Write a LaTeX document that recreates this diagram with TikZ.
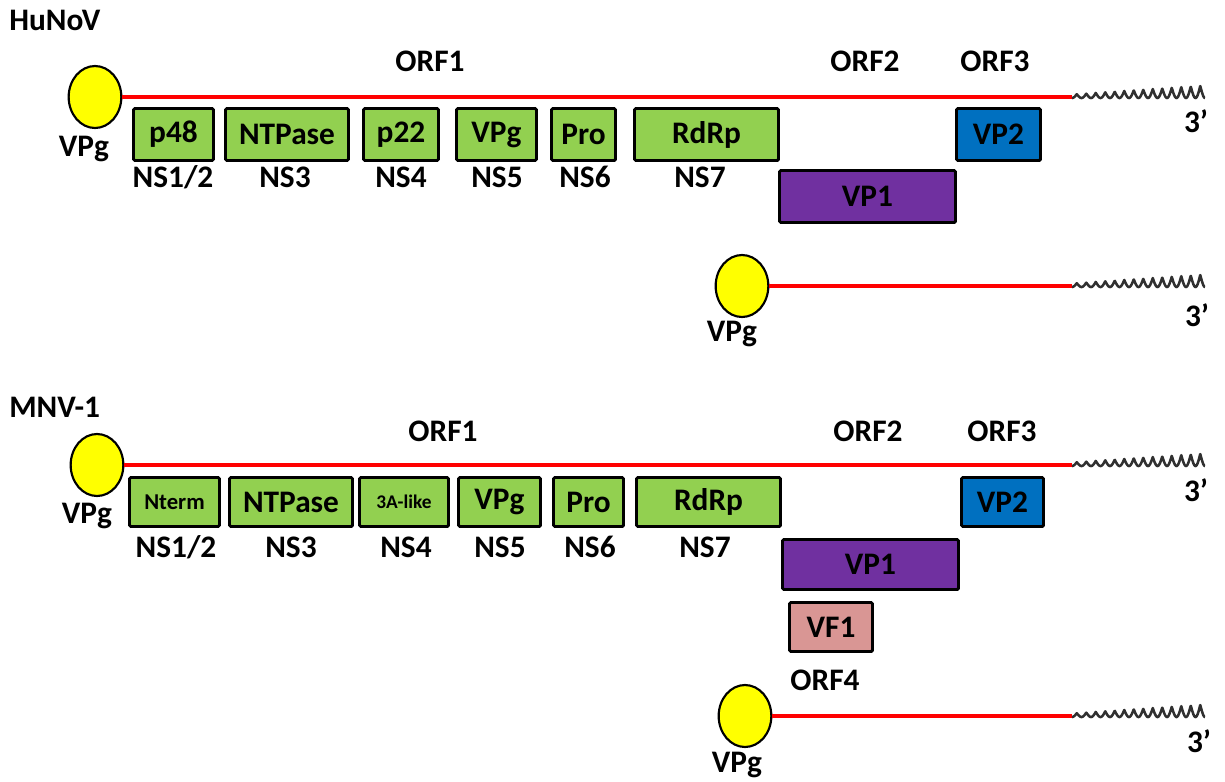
\documentclass[tikz,border=0pt]{standalone}
\usepackage{fontspec}
\setmainfont{Carlito}
\usetikzlibrary{shapes.geometric}
\definecolor{gfill}{HTML}{92D050}
\definecolor{pfill}{HTML}{7030A0}
\definecolor{bfill}{HTML}{0070C0}
\definecolor{vffill}{HTML}{D99694}
\definecolor{vyellow}{HTML}{FFFF00}
\definecolor{rnared}{HTML}{FF0000}
\definecolor{tailgray}{HTML}{303030}
\newcommand\pbox[7]{\node[box,fill=#2,minimum width={(#5-#3-3)*0.75pt},minimum height={(#6-#4-3)*0.75pt}] (#1) at ({(#3+#5)/2},{(#4+#6)/2}) {#7};}
\newcommand\rnatail[2]{\draw[tail] plot[domain=0:133,samples=500] ({#1+\x},{#2+1-(3.5+9*\x/133)*(1-abs(cos(\x/9.5*180)))});}
\begin{document}
\begin{tikzpicture}[x=0.75pt,y=-0.75pt]
\tikzset{
 txt/.style={font=\bfseries\fontsize{23.5}{25}\selectfont},
 box/.style={draw=black, line width=2.2pt, rounded corners=1pt, inner sep=0pt, txt, text=black},
 lab/.style={txt, inner sep=0pt},
 vpg/.style={ellipse, draw=black, line width=1.6pt, fill=vyellow, minimum width=39.5pt, minimum height=46.5pt, inner sep=0pt},
 rna/.style={draw=rnared, line width=2.6pt},
 tail/.style={draw=tailgray, line width=1.9pt, line join=round},
}
\useasboundingbox (0,0) rectangle (1225,782);

% ---------------- HuNoV ----------------
\node[lab, anchor=base west] (hunov) at (9,30) {HuNoV};
\node[lab, anchor=base] (orf1a) at (430,71) {ORF1};
\node[lab, anchor=base] (orf2a) at (865,71) {ORF2};
\node[lab, anchor=base] (orf3a) at (995,71) {ORF3};
\node[vpg] (v1) at (95,97) {};
\coordinate (t1) at (1072,97);
\draw[rna] (v1.east) -- (t1);
\rnatail{1072}{97}
\node[lab, anchor=base] (v1l) at (84,156) {VPg};
\node[lab, anchor=base] (e1) at (1196,132) {3’};

\pbox{p48}{gfill}{132}{107}{215}{162}{p48}
\pbox{ntp1}{gfill}{224}{107}{350}{162}{NTPase}
\pbox{p22}{gfill}{362}{107}{440}{162}{p22}
\pbox{vpg1}{gfill}{455}{107}{538}{162}{VPg}
\pbox{pro1}{gfill}{550}{107}{617}{162}{Pro}
\pbox{rdrp1}{gfill}{633}{107}{780}{162}{RdRp}
\pbox{vp2a}{bfill}{955}{107}{1042}{162}{VP2}
\pbox{vp1a}{pfill}{778}{169}{957}{224}{VP1}

\node[lab, anchor=base] at (173,187) {NS1/2};
\node[lab, anchor=base] at (285,187) {NS3};
\node[lab, anchor=base] at (401,187) {NS4};
\node[lab, anchor=base] at (497,187) {NS5};
\node[lab, anchor=base] at (585,187) {NS6};
\node[lab, anchor=base] at (700,187) {NS7};

% subgenomic HuNoV
\node[vpg] (v2) at (742,286) {};
\coordinate (t2) at (1072,286);
\draw[rna] (v2.east) -- (t2);
\rnatail{1072}{286}
\node[lab, anchor=base] (v2l) at (732,341) {VPg};
\node[lab, anchor=base] (e2) at (1197,326) {3’};

% ---------------- MNV-1 ----------------
\node[lab, anchor=base west] (mnv) at (9,417) {MNV-1};
\node[lab, anchor=base] (orf1b) at (443,441) {ORF1};
\node[lab, anchor=base] (orf2b) at (868,441) {ORF2};
\node[lab, anchor=base] (orf3b) at (1002,441) {ORF3};
\node[vpg] (v3) at (97,465) {};
\coordinate (t3) at (1072,465);
\draw[rna] (v3.east) -- (t3);
\rnatail{1072}{465}
\node[lab, anchor=base] (v3l) at (87,523) {VPg};
\node[lab, anchor=base] (e3) at (1196,501) {3’};

\pbox{nterm}{gfill}{128}{476}{221}{528}{\fontsize{17}{19}\selectfont Nterm}
\pbox{ntp2}{gfill}{228}{476}{354}{528}{NTPase}
\pbox{a3}{gfill}{358}{476}{450}{528}{\fontsize{14.5}{16}\selectfont 3A-like}
\pbox{vpg2}{gfill}{457}{476}{542}{528}{VPg}
\pbox{pro2}{gfill}{552}{476}{625}{528}{Pro}
\pbox{rdrp2}{gfill}{635}{476}{782}{528}{RdRp}
\pbox{vp2b}{bfill}{960}{476}{1045}{528}{VP2}
\pbox{vp1b}{pfill}{781}{538}{960}{591}{VP1}
\pbox{vf1}{vffill}{788}{601}{874}{653}{VF1}
\node[lab, anchor=base] (orf4) at (825,690) {ORF4};

\node[lab, anchor=base] at (176,557) {NS1/2};
\node[lab, anchor=base] at (291,557) {NS3};
\node[lab, anchor=base] at (406,557) {NS4};
\node[lab, anchor=base] at (500,557) {NS5};
\node[lab, anchor=base] at (590,557) {NS6};
\node[lab, anchor=base] at (705,557) {NS7};

% subgenomic MNV
\node[vpg] (v4) at (745,716) {};
\coordinate (t4) at (1072,716);
\draw[rna] (v4.east) -- (t4);
\rnatail{1072}{716}
\node[lab, anchor=base] (v4l) at (737,772) {VPg};
\node[lab, anchor=base] (e4) at (1199,752) {3’};
\end{tikzpicture}
\end{document}
